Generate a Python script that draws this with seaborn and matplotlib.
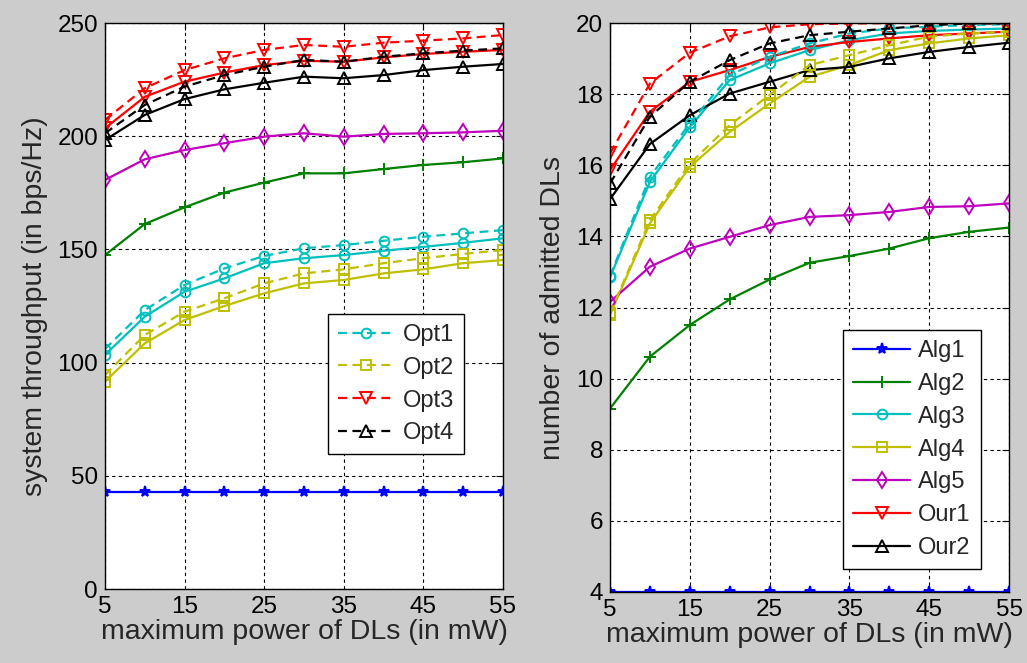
import numpy as np
import pandas as pd
import matplotlib
matplotlib.use("Agg")
import matplotlib.pyplot as plt
import seaborn as sns

# x axis: maximum power of DLs (mW)
power = [5, 10, 15, 20, 25, 30, 35, 40, 45, 50, 55]

# left panel: system throughput (bps/Hz)
thr_alg1 = [43, 43, 43, 43, 43, 43, 43, 43, 43, 43, 43]
thr_alg2 = [147.5, 161.2, 168.6, 175.1, 179.5, 183.6, 183.6, 185.5, 187.3, 188.5, 190.2]
thr_alg3 = [103.4, 120.3, 131.3, 137.2, 143.9, 146.1, 147.5, 149.4, 151.1, 152.9, 154.9]
thr_alg4 = [91.6, 108.5, 118.8, 125.0, 130.6, 135.0, 136.5, 139.4, 141.2, 143.9, 145.3]
thr_alg5 = [180.7, 189.8, 193.9, 196.9, 199.8, 201.3, 199.8, 201.0, 201.3, 201.7, 202.4]
thr_our1 = [203.5, 217.4, 224.1, 228.1, 231.4, 233.3, 232.9, 234.8, 236.3, 237.3, 238.1]
thr_our2 = [198.3, 209.4, 216.4, 220.7, 223.6, 226.3, 225.6, 227.0, 229.2, 230.7, 231.9]
thr_opt1 = [106.0, 123.2, 134.3, 141.6, 147.1, 150.5, 151.9, 153.8, 155.6, 157.1, 158.5]
thr_opt2 = [94.5, 112.2, 122.5, 128.4, 135.0, 139.4, 141.2, 143.9, 146.1, 148.0, 149.7]
thr_opt3 = [207.2, 221.2, 229.2, 234.4, 238.1, 240.3, 239.5, 241.3, 242.2, 243.2, 244.7]
thr_opt4 = [201.3, 213.8, 221.9, 227.0, 230.7, 233.7, 232.9, 235.1, 236.6, 237.8, 238.8]

# right panel: number of admitted DLs
adm_alg1 = [4, 4, 4, 4, 4, 4, 4, 4, 4, 4, 4]
adm_alg2 = [9.16, 10.62, 11.51, 12.23, 12.79, 13.26, 13.45, 13.66, 13.95, 14.13, 14.25]
adm_alg3 = [12.85, 15.54, 17.08, 18.40, 18.87, 19.24, 19.52, 19.71, 19.78, 19.82, 19.85]
adm_alg4 = [11.80, 14.37, 15.96, 16.94, 17.74, 18.49, 18.82, 19.24, 19.43, 19.57, 19.66]
adm_alg5 = [12.16, 13.15, 13.66, 13.99, 14.32, 14.55, 14.60, 14.69, 14.83, 14.85, 14.93]
adm_our1 = [15.87, 17.51, 18.35, 18.68, 19.05, 19.33, 19.47, 19.57, 19.66, 19.71, 19.76]
adm_our2 = [15.05, 16.60, 17.41, 18.02, 18.35, 18.68, 18.77, 19.01, 19.19, 19.33, 19.45]
adm_opt1 = [12.89, 15.68, 17.18, 18.54, 19.05, 19.43, 19.71, 19.85, 19.90, 19.95, 19.97]
adm_opt2 = [11.84, 14.46, 16.05, 17.13, 17.98, 18.82, 19.10, 19.38, 19.62, 19.71, 19.76]
adm_opt3 = [16.34, 18.30, 19.17, 19.63, 19.88, 19.97, 19.99, 20.0, 20.0, 20.0, 20.0]
adm_opt4 = [15.49, 17.37, 18.35, 18.96, 19.43, 19.66, 19.76, 19.85, 19.94, 19.99, 19.99]

alg_names = ["Alg1", "Alg2", "Alg3", "Alg4", "Alg5", "Our1", "Our2"]
opt_names = ["Opt1", "Opt2", "Opt3", "Opt4"]

# MATLAB-like styles
BLUE, GREEN, CYAN, YELLOW, MAGENTA, RED, BLACK = (
    "#0000ff", "#008000", "#00bfbf", "#bfbf00", "#bf00bf", "#ff0000", "#000000")
alg_style = {
    "Alg1": (BLUE, "*", 8),
    "Alg2": (GREEN, "+", 9),
    "Alg3": (CYAN, "o", 7),
    "Alg4": (YELLOW, "s", 7.5),
    "Alg5": (MAGENTA, "d", 8),
    "Our1": (RED, "v", 8.5),
    "Our2": (BLACK, "^", 8.5),
}
opt_style = {
    "Opt1": (CYAN, "o", 7),
    "Opt2": (YELLOW, "s", 7.5),
    "Opt3": (RED, "v", 8.5),
    "Opt4": (BLACK, "^", 8.5),
}

sns.set_style("white")
plt.rcParams["font.family"] = ["Liberation Sans", "DejaVu Sans"]
plt.rcParams["xtick.direction"] = "in"
plt.rcParams["ytick.direction"] = "in"

fig = plt.figure(figsize=(10.27, 6.63), dpi=100, facecolor="#cccccc")
ax1 = fig.add_axes([0.1022, 0.1116, 0.3875, 0.8537])
ax2 = fig.add_axes([0.594, 0.1071, 0.3885, 0.858])


def draw(ax, name, values, style, dashed):
    color, marker, ms = style
    filled = marker in ("*", "+")
    line = sns.lineplot(
        x=power, y=values, ax=ax, color=color, marker=marker, markersize=ms,
        markerfacecolor=color if filled else "none", markeredgecolor=color,
        markeredgewidth=1.4, linewidth=1.6, label=name, legend=False,
    ).get_lines()[-1]
    line.set_linestyle((0, (4, 2.5)) if dashed else "-")
    return line


# left panel
left_alg = [thr_alg1, thr_alg2, thr_alg3, thr_alg4, thr_alg5, thr_our1, thr_our2]
left_opt = [thr_opt1, thr_opt2, thr_opt3, thr_opt4]
for name, vals in zip(alg_names, left_alg):
    draw(ax1, name, vals, alg_style[name], False)
opt_handles = [draw(ax1, n, v, opt_style[n], True) for n, v in zip(opt_names, left_opt)]

# right panel
right_alg = [adm_alg1, adm_alg2, adm_alg3, adm_alg4, adm_alg5, adm_our1, adm_our2]
right_opt = [adm_opt1, adm_opt2, adm_opt3, adm_opt4]
alg_handles = [draw(ax2, n, v, alg_style[n], False) for n, v in zip(alg_names, right_alg)]
for name, vals in zip(opt_names, right_opt):
    draw(ax2, name, vals, opt_style[name], True)

for ax, ylim, yticks, ylabel in [
    (ax1, (0, 250), np.arange(0, 251, 50), "system throughput (in bps/Hz)"),
    (ax2, (4, 20), np.arange(4, 21, 2), "number of admitted DLs"),
]:
    ax.set_xlim(5, 55)
    ax.set_ylim(*ylim)
    ax.set_xticks(np.arange(5, 56, 10))
    ax.set_yticks(yticks)
    ax.set_facecolor("white")
    ax.grid(True, color="black", linestyle=(0, (3, 3)), linewidth=0.8)
    ax.set_axisbelow(True)
    ax.tick_params(labelsize=17.5, length=5, width=0.8, colors="black", pad=5,
                   top=True, right=True)
    for s in ax.spines.values():
        s.set_visible(True)
        s.set_color("black")
        s.set_linewidth(1.0)
    ax.set_xlabel("maximum power of DLs (in mW)", fontsize=20.5, labelpad=1)
    ax.set_ylabel(ylabel, fontsize=20.5, labelpad=7)

legend_kw = dict(loc="upper left", fontsize=17, frameon=True, fancybox=False,
                 edgecolor="black", framealpha=1, handlelength=2.4,
                 labelspacing=0.46, borderpad=0.42, handletextpad=0.35,
                 borderaxespad=0)
leg1 = ax1.legend(handles=opt_handles, labels=opt_names,
                  bbox_to_anchor=(0.5595, 0.486), **legend_kw)
leg1.get_frame().set_linewidth(1.0)
leg2 = ax2.legend(handles=alg_handles, labels=alg_names,
                  bbox_to_anchor=(0.585, 0.4605), **legend_kw)
leg2.get_frame().set_linewidth(1.0)

fig.savefig("out.png", dpi=100, facecolor=fig.get_facecolor())
